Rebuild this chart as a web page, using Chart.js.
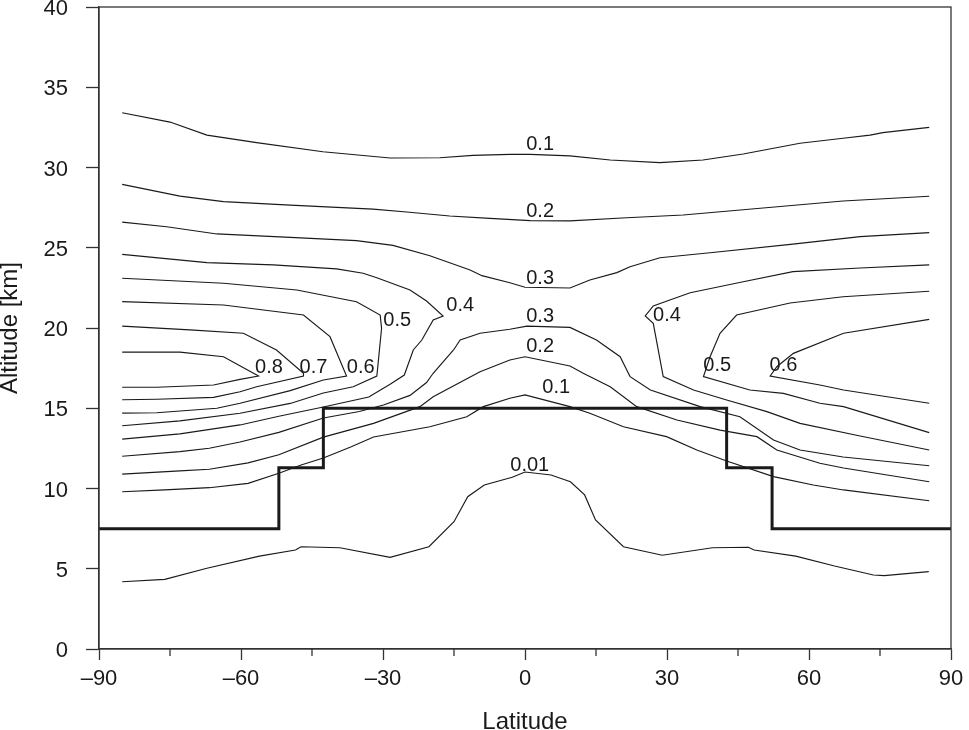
<!DOCTYPE html>
<html>
<head>
<meta charset="utf-8">
<script src="https://cdn.jsdelivr.net/npm/chart.js@4.4.1/dist/chart.umd.min.js"></script>
<style>
  html, body { margin:0; padding:0; background:#fff; }
</style>
</head>
<body>
<canvas id="chart" width="969" height="730"></canvas>
<script>

// contour lines, each point is [latitude, altitude km]
const c01_top = [[-85.1,33.41],[-75,32.83],[-67.2,32.02],[-56.7,31.55],[-42.7,30.98],[-28.5,30.59],[-18,30.61],[-11,30.76],[-3.2,30.82],[1.1,30.82],[9.5,30.72],[18,30.47],[28.5,30.3],[37.6,30.47],[46.1,30.84],[58.1,31.51],[67.2,31.82],[72.9,32.02],[75.6,32.17],[85.4,32.5]]
const c02_top = [[-85.1,28.95],[-72.9,28.22],[-63.7,27.87],[-49.6,27.66],[-32.1,27.41],[-25,27.23],[-15.9,26.98],[-7.4,26.83],[1.1,26.69],[9.5,26.67],[21.5,26.87],[33.4,27.04],[49.7,27.46],[67.2,27.91],[85.4,28.21]]
const c03_top = [[-85.1,26.6],[-75.7,26.31],[-65.1,25.86],[-49.6,25.65],[-35.6,25.44],[-27.9,25.15],[-20.1,24.5],[-11.6,23.61],[-9.1,23.26],[-3.2,22.82],[0,22.54],[9.5,22.49],[13.7,22.99],[19.4,23.45],[22.2,23.82],[28.5,24.38],[39.1,24.69],[56.6,25.23],[70.8,25.69],[85.4,25.94]]

// tongues coming in from the left edge (upper branch, tip, lower branch)
const c04_left = [[-85.1,24.59],[-67.2,24.07],[-53.2,23.93],[-39.8,23.68],[-34.2,23.41],[-31.3,23.13],[-24.3,22.37],[-20.8,21.68],[-17.3,20.75],[-19.4,20.5],[-21.8,19.25],[-23.6,18.63],[-25.5,17.07],[-28.5,16.5],[-33,15.7],[-42.6,15.08],[-52,14.5],[-60.2,13.96],[-72.9,13.4],[-85.1,13.08]]
const c05_left = [[-85.1,23.1],[-63.7,22.79],[-48.2,22.37],[-35.6,21.64],[-30.6,20.81],[-30.3,19.98],[-31.3,17.01],[-36.3,16.34],[-42.6,15.95],[-49.6,15.3],[-60.2,14.69],[-72.9,14.21],[-85.1,13.91]]
const c06_left = [[-85.1,21.64],[-63.7,21.43],[-46.8,20.81],[-41.2,19.46],[-37.7,17.01],[-42.6,16.76],[-49.6,16.1],[-60.2,15.31],[-65.1,15.0],[-77.8,14.72],[-85.1,14.7]]
const c07_left = [[-85.1,20.12],[-70.8,19.88],[-59.5,19.67],[-52.5,18.63],[-46.8,17.18],[-46.8,17.01],[-56.7,16.34],[-60.2,16.03],[-65.8,15.68],[-77.8,15.56],[-85.1,15.53]]
const c08_left = [[-85.1,18.5],[-72.9,18.5],[-63.7,18.21],[-56.3,17.01],[-60.2,16.8],[-65.8,16.45],[-77.8,16.31],[-85.1,16.31]]

// tongues coming in from the right edge
const c04_right = [[85.4,23.93],[70.8,23.74],[56.6,23.51],[46.1,22.88],[34.9,22.2],[30.6,21.74],[27.1,21.37],[25.4,20.75],[27.1,20.29],[29.2,16.97],[35.6,16.14],[42.6,15.51],[51.1,14.79],[58.1,14.06],[70.8,13.27],[85.4,12.4]]
const c05_right = [[85.4,22.29],[67.2,21.95],[56,21.56],[44.7,20.81],[41.2,19.67],[39.1,18.21],[37.7,16.97],[47.5,16.14],[54.6,15.93],[62.3,15.31],[67.3,15.1],[85.4,13.48]]
const c06_right = [[85.4,20.54],[67.3,19.67],[56.7,18.42],[53.2,17.59],[51.8,17.01],[62.3,16.45],[67.3,16.14],[85.4,15.31]]

// the domes over the equator
const c03_low = [[-85.1,12.01],[-72.9,12.3],[-66.7,12.51],[-60.2,12.9],[-52,13.5],[-42.6,14.39],[-35,14.8],[-29.9,15.2],[-24.3,15.8],[-20.8,16.6],[-19.4,17.18],[-15.1,18.63],[-13.7,19.25],[-9.5,19.67],[-3.2,19.92],[0.4,20.12],[9.5,20.04],[15.1,19.25],[20.1,18.21],[21.5,17.38],[22.2,16.97],[26.5,16.14],[37,15.1],[45.4,14.47],[52.5,13.02],[58.1,12.4],[67.2,11.96],[85.4,11.42]]
const c02_low = [[-85.1,10.9],[-72.9,11.1],[-66.7,11.2],[-58.5,11.6],[-52,12.1],[-42.6,13.2],[-32,14.06],[-22.2,15.1],[-19.4,15.72],[-9.5,17.28],[-3.2,18.01],[0,18.21],[9.5,17.63],[12.3,17.18],[18,16.34],[23.6,15.1],[32.1,14.27],[41.2,13.64],[49,13.23],[53.2,12.4],[62.3,11.57],[67.3,11.28],[85.4,10.42]]
const c01_low = [[-85.1,9.8],[-76.1,9.91],[-66.7,10.05],[-58.5,10.32],[-52,10.95],[-47.3,11.46],[-42.6,11.9],[-36.7,12.6],[-32,13.21],[-20.1,13.85],[-12.3,14.47],[-8.8,15.1],[-3.2,15.62],[0,15.83],[9.5,15.1],[13.7,14.69],[20.8,13.85],[29.9,13.23],[36.3,12.4],[42.6,11.71],[52.5,10.74],[60.9,10.22],[67.3,9.91],[85.4,9.24]]
const c001 = [[-85.1,4.19],[-76.1,4.34],[-67.2,5.03],[-56.1,5.79],[-48.5,6.17],[-47.3,6.37],[-39.1,6.31],[-28.5,5.71],[-20.3,6.37],[-15,7.93],[-12.1,9.49],[-8.6,10.22],[-2.7,10.7],[0,11.03],[5.5,10.84],[9.6,10.42],[12.6,9.6],[14.9,8.04],[20.8,6.37],[29,5.84],[39.6,6.31],[47.2,6.34],[48.4,6.17],[57.2,5.79],[65.4,5.17],[73.6,4.61],[75.9,4.57],[85.3,4.82]]

// thick step line
const tropopause = [[-90,7.5],[-52,7.5],[-52,11.3],[-42.6,11.3],[-42.6,15],[42.6,15],[42.6,11.3],[52.2,11.3],[52.2,7.5],[90,7.5]]

// contour labels
const labelText = ['0.1','0.2','0.3','0.4','0.5','0.3','0.2','0.4','0.8','0.7','0.6','0.5','0.6','0.1','0.01']
const labelLat  = [3.2, 3.2, 3.2, -13.7, -27.0, 3.2, 3.2, 30.0, -54.1, -44.7, -34.7, 40.6, 54.6, 6.6, 1.0]
const labelAlt  = [31.46, 27.26, 23.08, 21.4, 20.44, 20.71, 18.82, 20.79, 17.52, 17.52, 17.52, 17.66, 17.66, 16.29, 11.41]

const contours = [c01_top, c02_top, c03_top, c04_left, c05_left, c06_left, c07_left, c08_left,
                  c04_right, c05_right, c06_right, c03_low, c02_low, c01_low, c001]

const FONT = '"Liberation Sans", Arial, Helvetica, sans-serif'
const INK  = '#1a1a1a'

Chart.defaults.font.family = FONT
Chart.defaults.color = INK


function lineSet(points, width){
      return {
            data: points.map(p => ({ x: p[0], y: p[1] })),
            showLine: true,
            borderColor: INK,
            borderWidth: width,
            pointRadius: 0,
            tension: 0,
            fill: false,
      }
}

function getDataSets(){
      const sets = contours.map(c => lineSet(c, 1.15))
      sets.push(lineSet(tropopause, 3))
      return sets
}


// box round the plot, minor latitude ticks and the contour values
const decorations = {
      id: 'decorations',
      afterDatasetsDraw(chart){
            const { ctx, chartArea: a, scales } = chart
            ctx.save()
            ctx.strokeStyle = '#333'
            ctx.lineWidth = 1.3
            ctx.strokeRect(a.left, a.top, a.right - a.left, a.bottom - a.top)

            for(let v = -75; v < 90; v += 30){
                  const x = scales.x.getPixelForValue(v)
                  ctx.beginPath()
                  ctx.moveTo(x, a.bottom)
                  ctx.lineTo(x, a.bottom + 7)
                  ctx.stroke()
            }

            ctx.fillStyle = INK
            ctx.font = '20px ' + FONT
            ctx.textAlign = 'center'
            ctx.textBaseline = 'middle'
            labelText.forEach((t, i) => {
                  ctx.fillText(t, scales.x.getPixelForValue(labelLat[i]), scales.y.getPixelForValue(labelAlt[i]))
            })
            ctx.restore()
      }
}


const setup = {
      type: 'scatter',
      data: { datasets: getDataSets() },
      options: {
            responsive: false,
            animation: false,
            layout: { padding: { top: 7, right: 18, bottom: 0, left: 0 } },
            plugins: {
                  legend:  { display: false },
                  tooltip: { enabled: false },
            },
            scales: {
                  x: {
                        type: 'linear',
                        min: -90, max: 90,
                        afterFit: (s) => { s.height = 81; s.paddingLeft = 0; s.paddingRight = 0 },
                        border: { display: true, color: '#333', width: 1.3 },
                        grid: { drawOnChartArea: false, drawTicks: true, tickLength: 11, tickColor: '#333', tickWidth: 1.3 },
                        ticks: {
                              stepSize: 30, padding: 6, maxRotation: 0, autoSkip: false,
                              font: { size: 22 },
                              callback: (v) => v < 0 ? '\u2013' + Math.abs(v) : '' + v,
                        },
                        title: { display: true, text: 'Latitude', padding: 0, font: { size: 24, lineHeight: 0.6 } },
                  },
                  y: {
                        type: 'linear',
                        min: 0, max: 40,
                        afterFit: (s) => { s.width = 99; s.paddingTop = 0; s.paddingBottom = 0 },
                        border: { display: true, color: '#333', width: 1.3 },
                        grid: { drawOnChartArea: false, drawTicks: true, tickLength: 13, tickColor: '#333', tickWidth: 1.3 },
                        ticks: { stepSize: 5, padding: 18, labelOffset: 2, font: { size: 22, lineHeight: 1 } },
                        title: { display: true, text: 'Altitude [km]', padding: 0, font: { size: 24, lineHeight: 0.875 } },
                  },
            },
      },
      plugins: [decorations],
}

new Chart(document.getElementById('chart'), setup)

</script>
</body>
</html>
